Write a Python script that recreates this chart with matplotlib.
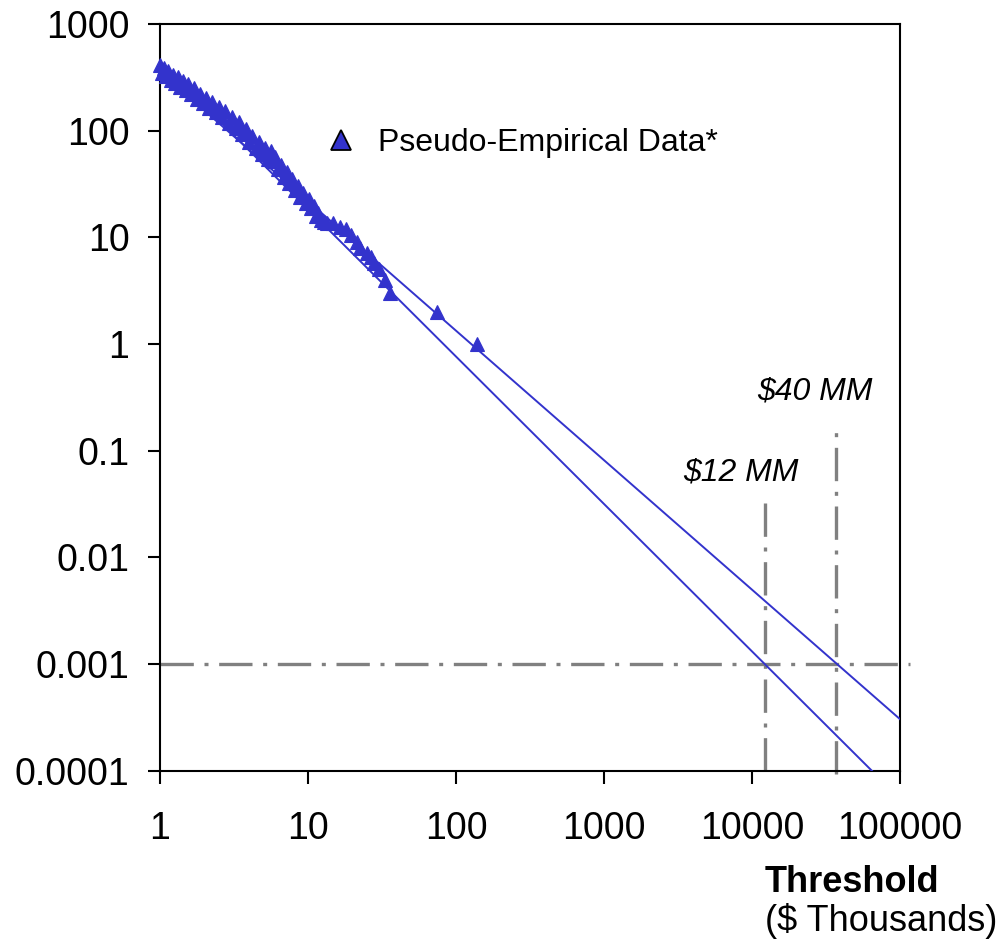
import numpy as np
import matplotlib
matplotlib.use("Agg")
import matplotlib.pyplot as plt
from matplotlib.lines import Line2D

plt.rcParams['font.family'] = ['Liberation Sans', 'DejaVu Sans']

# Pseudo-empirical data (threshold in $ thousands, count above threshold)
threshold = [1.00, 1.03, 1.06, 1.10, 1.14, 1.18, 1.22, 1.27, 1.32, 1.37,
             1.43, 1.49, 1.55, 1.62, 1.70, 1.78, 1.86, 1.95, 2.05, 2.15,
             2.26, 2.38, 2.50, 2.63, 2.77, 2.92, 3.08, 3.25, 3.42, 3.60,
             3.80, 4.00, 4.20, 4.42, 4.65, 4.90, 5.15, 5.40, 5.60, 5.80,
             6.00, 6.30, 6.60, 6.90, 7.20, 7.50, 7.85, 8.20, 8.55, 8.90,
             9.30, 9.70, 10.1, 10.5, 10.9, 11.3, 11.7, 12.2, 12.8, 13.5,
             14.8, 16.5, 18.2, 19.5, 21.3, 22.5, 25.0, 26.5, 28.0, 30.0,
             33.0, 36.0, 74.0, 139.0]
count = [410, 350, 385, 325, 360, 300, 335, 280, 315, 258,
         290, 240, 272, 220, 250, 200, 222, 180, 202, 164,
         186, 148, 168, 134, 152, 118, 134, 105, 120, 92,
         104, 79, 90, 69, 79, 60, 68, 54, 64, 52,
         57, 44, 48, 37, 41, 32, 35, 28, 30, 24,
         26, 21, 23, 19, 19.5, 16, 17, 14.5, 14, 13.5,
         13.5, 12.5, 12, 10.5, 9, 8, 7.2, 6.5, 5.8, 5,
         4, 3, 2, 1]

# fitted power-law lines (endpoints)
fit_x = [1, 100000]
fit_upper_y = [357, 3.04e-4]
fit_lower_y = [443, 5.45e-5]

# reference levels
prob_level = 0.001
cut_12mm = 12200
cut_40mm = 37000

x_ticks = [1, 10, 100, 1000, 10000, 100000]
x_labels = ['1', '10', '100', '1000', '10000', '100000']
y_ticks = [0.0001, 0.001, 0.01, 0.1, 1, 10, 100, 1000]
y_labels = ['0.0001', '0.001', '0.01', '0.1', '1', '10', '100', '1000']

blue = '#3333CC'
grey = '#808080'

fig = plt.figure(figsize=(10.03, 9.47), dpi=100)
ax = fig.add_axes([0.1595, 0.1862, 0.7378, 0.7885])
ax.set_xscale('log')
ax.set_yscale('log')
ax.set_xlim(1, 100000)
ax.set_ylim(0.0001, 1000)

dash = (10, 3.2, 1.2, 3.2)
ax.plot([1, 117000], [prob_level, prob_level], color=grey, lw=2.4,
        dashes=dash, clip_on=False, zorder=2)
ax.plot([cut_12mm, cut_12mm], [0.0001, 0.034], color=grey, lw=2.4,
        dashes=dash, clip_on=False, zorder=2)
ax.plot([cut_40mm, cut_40mm], [0.000093, 0.16], color=grey, lw=2.4,
        dashes=dash, clip_on=False, zorder=2)

ax.plot(fit_x, fit_upper_y, color=blue, lw=1.4, zorder=3)
ax.plot(fit_x, fit_lower_y, color=blue, lw=1.4, zorder=3)

ax.plot(threshold, count, ls='none', marker='^', ms=10, mfc=blue, mec=blue,
        mew=0.8, zorder=4, clip_on=False)

ax.text(3420, 0.053, r'\$12 MM', fontsize=23, style='italic', ha='left', va='baseline')
ax.text(10800, 0.30, r'\$40 MM', fontsize=23, style='italic', ha='left', va='baseline')

handle = Line2D([], [], ls='none', marker='^', ms=14, mfc=blue, mec='black', mew=1.3)
ax.legend([handle], ['Pseudo-Empirical Data*'], loc='center left',
          bbox_to_anchor=(0.21, 0.84), frameon=False, fontsize=23,
          handletextpad=0.85, borderpad=0, handlelength=0.6)

ax.set_xticks(x_ticks)
ax.set_xticklabels(x_labels)
ax.set_yticks(y_ticks)
ax.set_yticklabels(y_labels)
ax.xaxis.set_minor_locator(matplotlib.ticker.NullLocator())
ax.yaxis.set_minor_locator(matplotlib.ticker.NullLocator())
ax.tick_params(axis='both', direction='out', length=9, width=1.5, labelsize=27)
ax.tick_params(axis='x', pad=20)
ax.tick_params(axis='y', pad=13)
for sp in ax.spines.values():
    sp.set_linewidth(1.5)

fig.text(765 / 1003, 1 - 882 / 947, 'Threshold', fontsize=26, fontweight='bold',
         ha='left', va='center')
fig.text(765 / 1003, 1 - 921 / 947, '($ Thousands)', fontsize=26,
         ha='left', va='center')

fig.savefig('out.png', dpi=100)
